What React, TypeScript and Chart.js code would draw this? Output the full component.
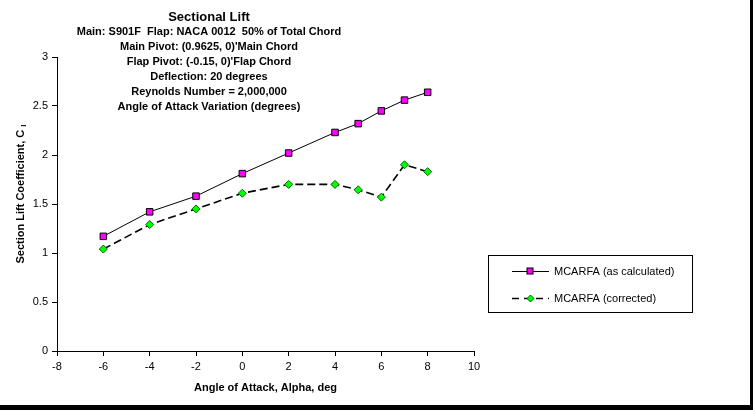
import React, { useEffect, useRef } from 'react';
import { Chart, registerables } from 'chart.js';

Chart.register(...registerables);

const alpha = [-6, -4, -2, 0, 2, 4, 5, 6, 7, 8];
const clCalculated = [1.17, 1.42, 1.58, 1.81, 2.02, 2.23, 2.32, 2.45, 2.56, 2.64];
const clCorrected = [1.04, 1.29, 1.45, 1.61, 1.70, 1.70, 1.645, 1.57, 1.90, 1.83];
const seriesNames = ['MCARFA (as calculated)', 'MCARFA (corrected)'];
const chartTitle = 'Sectional Lift';
const subtitleLines = [
  'Main: S901F  Flap: NACA 0012  50% of Total Chord',
  "Main Pivot: (0.9625, 0)'Main Chord",
  "Flap Pivot: (-0.15, 0)'Flap Chord",
  'Deflection: 20 degrees',
  'Reynolds Number = 2,000,000',
  'Angle of Attack Variation (degrees)',
];
const xAxisTitle = 'Angle of Attack, Alpha, deg';
const yAxisTitle = 'Section Lift Coefficient, C';
const yAxisSub = 'l';

const FONT = '"Liberation Sans", Arial, sans-serif';

const overlayPlugin = {
  id: 'overlay',
  afterDraw(chart: any) {
    const ctx = chart.ctx;
    ctx.save();
    // Titles
    ctx.fillStyle = '#000';
    ctx.textAlign = 'center';
    ctx.textBaseline = 'middle';
    ctx.font = `bold 13px ${FONT}`;
    ctx.fillText(chartTitle, 209, 17);
    ctx.font = `bold 11px ${FONT}`;
    subtitleLines.forEach((t, i) => ctx.fillText(t, 209, 32 + i * 15));

    // Y axis title (rotated)
    ctx.save();
    ctx.translate(21, 194);
    ctx.rotate(-Math.PI / 2);
    ctx.font = `bold 11px ${FONT}`;
    const w = ctx.measureText(yAxisTitle).width;
    ctx.font = `bold 8px ${FONT}`;
    const ws = ctx.measureText(yAxisSub).width + 3;
    const total = w + ws;
    ctx.textAlign = 'left';
    ctx.font = `bold 11px ${FONT}`;
    ctx.fillText(yAxisTitle, -total / 2, 0);
    ctx.font = `bold 8px ${FONT}`;
    ctx.fillText(yAxisSub, -total / 2 + w + 3, 3);
    ctx.restore();

    // Legend
    const bx = 488, by = 255, bw = 204, bh = 57;
    ctx.fillStyle = '#fff';
    ctx.fillRect(bx, by, bw, bh);
    ctx.strokeStyle = '#000';
    ctx.lineWidth = 1;
    ctx.setLineDash([]);
    ctx.strokeRect(bx + 0.5, by + 0.5, bw, bh);
    const ys = [271, 298];
    chart.data.datasets.forEach((ds: any, i: number) => {
      const y = ys[i] + 0.5;
      ctx.strokeStyle = ds.borderColor;
      ctx.lineWidth = ds.borderWidth;
      ctx.setLineDash(ds.borderDash ? [7, 5] : []);
      ctx.beginPath();
      ctx.moveTo(512, y);
      ctx.lineTo(549, y);
      ctx.stroke();
      ctx.setLineDash([]);
      ctx.fillStyle = ds.pointBackgroundColor;
      ctx.strokeStyle = ds.pointBorderColor;
      ctx.lineWidth = 1;
      if (ds.pointStyle === 'rect') {
        ctx.fillRect(527, y - 3.5, 6, 6);
        ctx.strokeRect(527, y - 3.5, 6, 6);
      } else {
        ctx.beginPath();
        ctx.moveTo(530.5, y - 3.5);
        ctx.lineTo(534, y);
        ctx.lineTo(530.5, y + 3.5);
        ctx.lineTo(527, y);
        ctx.closePath();
        ctx.fill();
        ctx.stroke();
      }
      ctx.fillStyle = '#000';
      ctx.font = `11px ${FONT}`;
      ctx.textAlign = 'left';
      ctx.textBaseline = 'middle';
      ctx.fillText(seriesNames[i], 554, ys[i] + 1);
    });
    ctx.restore();
  },
};

export default function App() {
  const ref = useRef<HTMLCanvasElement | null>(null);
  useEffect(() => {
    if (!ref.current) return;
    const chart = new Chart(ref.current, {
      type: 'line',
      data: {
        datasets: [
          {
            label: seriesNames[0],
            data: alpha.map((x, i) => ({ x, y: clCalculated[i] })),
            borderColor: '#000',
            borderWidth: 1,
            pointStyle: 'rect',
            pointRadius: 4.6,
            pointBackgroundColor: '#ff00ff',
            pointBorderColor: '#000',
            pointBorderWidth: 1,
            tension: 0,
          } as any,
          {
            label: seriesNames[1],
            data: alpha.map((x, i) => ({ x, y: clCorrected[i] })),
            borderColor: '#000',
            borderWidth: 1.6,
            borderDash: [8, 4],
            pointStyle: 'rectRot',
            pointRadius: 4,
            pointBackgroundColor: '#00ff00',
            pointBorderColor: '#006400',
            pointBorderWidth: 1,
            tension: 0,
          } as any,
        ],
      },
      options: {
        responsive: false,
        animation: false,
        devicePixelRatio: 1,
        layout: { padding: { top: 57, right: 276, left: 0, bottom: 10 } },
        plugins: { legend: { display: false }, title: { display: false }, tooltip: { enabled: false } },
        scales: {
          x: {
            type: 'linear',
            min: -8,
            max: 10,
            afterFit: (s: any) => { s.height = 44; },
            grid: { display: true, drawOnChartArea: false, drawTicks: true, tickLength: 5, color: '#000' },
            border: { display: true, color: '#000', width: 1 },
            ticks: { stepSize: 2, color: '#000', font: { family: FONT, size: 11 }, padding: 4, maxRotation: 0 },
            title: { display: true, text: xAxisTitle, color: '#000', font: { family: FONT, size: 11, weight: 'bold' }, padding: { top: 0, bottom: 0 } },
          },
          y: {
            type: 'linear',
            min: 0,
            max: 3,
            afterFit: (s: any) => { s.width = 57; },
            grid: { display: true, drawOnChartArea: false, drawTicks: true, tickLength: 5, color: '#000' },
            border: { display: true, color: '#000', width: 1 },
            ticks: { stepSize: 0.5, color: '#000', font: { family: FONT, size: 11 }, padding: 4, callback: (v: any) => String(Number(v)) },
          },
        },
      },
      plugins: [overlayPlugin],
    } as any);
    return () => chart.destroy();
  }, []);
  return (
    <div
      style={{
        position: 'fixed',
        left: 0,
        top: 0,
        width: 753,
        height: 410,
        boxSizing: 'border-box',
        background: '#fff',
        borderRight: '3px solid #000',
        borderBottom: '5px solid #000',
      }}
    >
      <canvas ref={ref} width={750} height={405} style={{ display: 'block', width: 750, height: 405 }} />
    </div>
  );
}
